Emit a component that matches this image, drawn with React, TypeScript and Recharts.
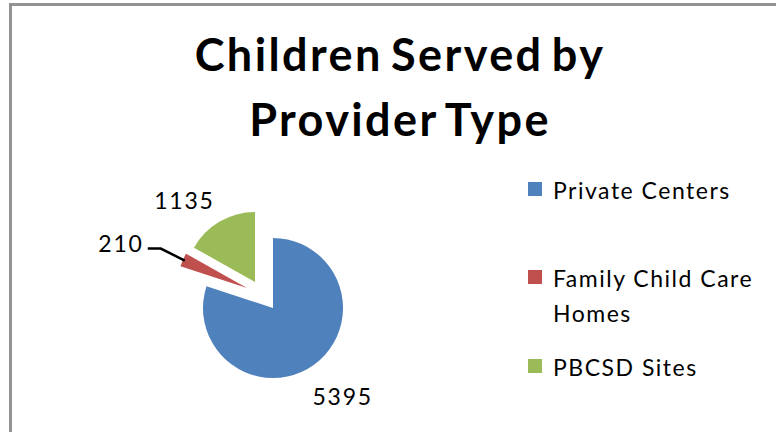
import React from 'react';
import { PieChart, Pie, Cell, Legend } from 'recharts';

const categories = ['Private Centers', 'Family Child Care Homes', 'PBCSD Sites'];
const values = [5395, 210, 1135];
const colors = ['#4F81BD', '#C0504D', '#9BBB59'];
const legendLines = [['Private Centers'], ['Family Child Care', 'Homes'], ['PBCSD Sites']];
const titleLines = ['Children Served by', 'Provider Type'];

const data = categories.map((name, i) => ({ name, value: values[i] }));

// exploded slice centres (layout)
const centers = [
  { cx: 273, cy: 308 },
  { cx: 247, cy: 288 },
  { cx: 255, cy: 282 },
];

const RAD = Math.PI / 180;
const FONT = 'Lato, "Noto Sans", sans-serif';

const polar = (cx: number, cy: number, r: number, angle: number) => ({
  x: cx + r * Math.cos(-angle * RAD),
  y: cy + r * Math.sin(-angle * RAD),
});

const textStyle = { fontFamily: FONT, fontSize: 23, fill: '#000', letterSpacing: 1.8 };

const makeLabel = (idx: number) => (props: any) => {
  if (props.index !== idx) return null;
  const { cx, cy, midAngle, outerRadius, value } = props;
  if (idx === 0) {
    const p = polar(cx, cy, outerRadius + 42, midAngle);
    return (
      <text x={p.x + 4} y={p.y - 3} textAnchor="middle" dominantBaseline="central" style={textStyle}>
        {value}
      </text>
    );
  }
  if (idx === 2) {
    const p = polar(cx, cy, outerRadius + 38, midAngle);
    return (
      <text x={p.x - 16} y={p.y + 11} textAnchor="middle" dominantBaseline="central" style={textStyle}>
        {value}
      </text>
    );
  }
  const p0 = polar(cx, cy, outerRadius - 2, midAngle);
  const p1 = { x: p0.x - 24, y: p0.y - 12 };
  const p2 = { x: p1.x - 13, y: p1.y };
  return (
    <g>
      <polyline points={`${p0.x},${p0.y} ${p1.x},${p1.y} ${p2.x},${p2.y}`} fill="none" stroke="#000" strokeWidth={2.5} />
      <text x={p2.x - 4} y={p2.y - 6} textAnchor="end" dominantBaseline="central" style={textStyle}>
        {value}
      </text>
    </g>
  );
};

const legendTops = [180, 268, 357];

const renderLegend = () => (
  <div style={{ position: 'relative', width: 240, height: 220, fontFamily: FONT, fontSize: 23, letterSpacing: 1.5, color: '#000' }}>
    {legendLines.map((lines, i) => (
      <div key={i} style={{ position: 'absolute', left: 0, top: legendTops[i] - 170 }}>
        <div style={{ position: 'absolute', left: 0, top: 2, width: 14, height: 14, background: colors[i] }} />
        <div style={{ position: 'absolute', left: 25, top: -7, lineHeight: '35px', whiteSpace: 'nowrap' }}>
          {lines.map((l, j) => (
            <div key={j}>{l}</div>
          ))}
        </div>
      </div>
    ))}
  </div>
);

export default function App() {
  return (
    <div style={{ position: 'absolute', left: 0, top: 0, width: 776, height: 432, overflow: 'hidden', background: '#fff' }}>
      <div
        style={{
          position: 'absolute',
          left: 9,
          top: 3,
          width: 900,
          height: 600,
          borderLeft: '3px solid #939393',
          borderTop: '3px solid #939393',
        }}
      />
      <div
        style={{
          position: 'absolute',
          left: 0,
          top: 22,
          width: 800,
          textAlign: 'center',
          fontFamily: FONT,
          fontWeight: 'bold',
          fontSize: 45,
          letterSpacing: 2.4,
          wordSpacing: -5,
          lineHeight: '65px',
          color: '#000',
        }}
      >
        {titleLines.map((t, i) => (
          <div key={i}>{t}</div>
        ))}
      </div>
      <div style={{ position: 'absolute', left: 0, top: 0 }}>
        <PieChart width={776} height={432} margin={{ top: 0, right: 0, bottom: 0, left: 0 }}>
          {centers.map((c, k) => (
            <Pie
              key={k}
              data={data}
              dataKey="value"
              nameKey="name"
              cx={c.cx}
              cy={c.cy}
              outerRadius={70}
              startAngle={90}
              endAngle={-270}
              stroke="none"
              labelLine={false}
              label={makeLabel(k)}
              isAnimationActive={false}
            >
              {data.map((d, i) => (
                <Cell key={i} fill={i === k ? colors[i] : 'transparent'} />
              ))}
            </Pie>
          ))}
          <Legend
            content={renderLegend}
            wrapperStyle={{ position: 'absolute', left: 528, top: 170, width: 240, height: 220 }}
          />
        </PieChart>
      </div>
    </div>
  );
}
